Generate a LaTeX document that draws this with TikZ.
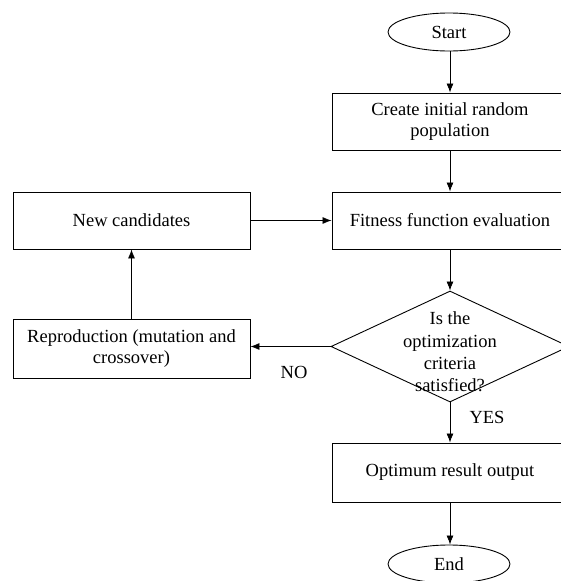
\documentclass[tikz,border=0pt]{standalone}
\usepackage{fontspec}
\setmainfont{Liberation Serif}
\usetikzlibrary{arrows.meta,shapes.geometric}
\begin{document}
\begin{tikzpicture}[x=1pt,y=-1pt,
  every node/.style={font=\fontsize{18.5}{21.5}\selectfont},
  box/.style={draw,line width=0.9pt,rectangle,inner sep=0pt,align=center},
  term/.style={draw,line width=0.9pt,ellipse,minimum width=122pt,minimum height=38pt,inner sep=0pt},
  conn/.style={line width=0.8pt,-{Latex[length=9pt,width=7pt]}},
  lbl/.style={inner sep=0pt}]
\useasboundingbox (0,0) rectangle (560,581);
\node[term] (start) at (449,32) {Start};
\node[box,minimum width=236pt,minimum height=57pt] (create) at (450,121.5) {Create initial random\\population};
\node[box,minimum width=236pt,minimum height=57pt] (fit) at (450,220.5) {Fitness function evaluation};
\node[draw,line width=0.9pt,diamond,minimum width=238pt,minimum height=111pt,inner sep=0pt] (dec) at (450,346.5) {};
\node[lbl,align=center,font=\fontsize{18.5}{22.4}\selectfont] (dectext) at (450,352) {Is the\\optimization\\criteria\\satisfied?};
\node[box,minimum width=236pt,minimum height=59pt] (opt) at (450,472.5) {Optimum result output};
\node[term] (end) at (449,564) {End};
\node[box,minimum width=237pt,minimum height=57pt] (new) at (131.5,220.5) {New candidates};
\node[box,minimum width=237pt,minimum height=59pt] (rep) at (131.5,348.5) {Reproduction (mutation and\\crossover)};
\node[lbl] (no) at (294,372) {NO};
\node[lbl] (yes) at (487,417) {YES};
\draw[conn] (start.south -| 450,0) -- (create.north -| 450,0);
\draw[conn] (create.south -| 450,0) -- (fit.north -| 450,0);
\draw[conn] (fit.south) -- (dec.north);
\draw[conn] (dec.south) -- (opt.north);
\draw[conn] (opt.south -| 450,0) -- (end.north -| 450,0);
\draw[conn] (dec.west) -- (rep.east |- dec.west);
\draw[conn] (rep.north) -- (new.south);
\draw[conn] (new.east) -- (fit.west);
\end{tikzpicture}
\end{document}
